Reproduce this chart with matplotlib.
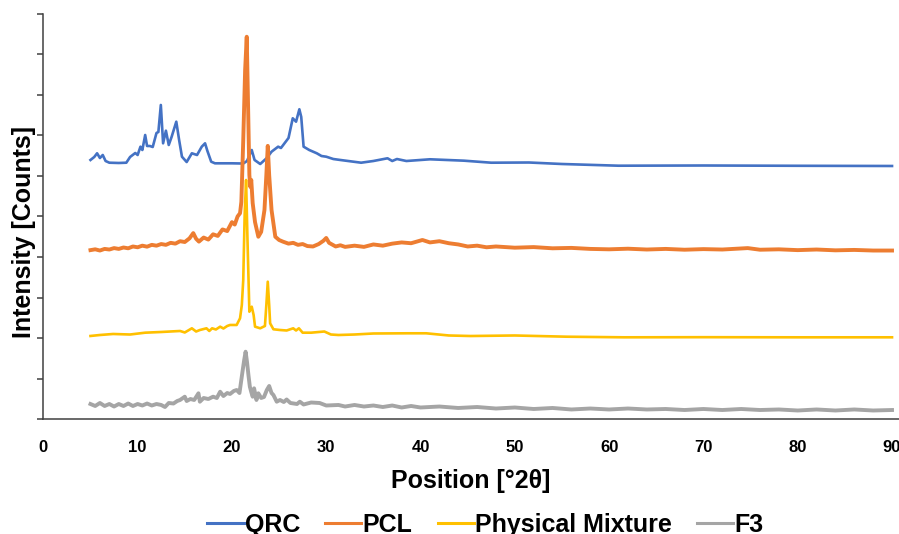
import matplotlib
matplotlib.use("Agg")
import matplotlib.pyplot as plt

plt.rcParams["font.family"] = ["Liberation Sans", "DejaVu Sans"]
plt.rcParams["font.weight"] = "bold"

# ---- XRD patterns (2theta, counts) ----
qrc_x = [5.0, 5.4, 5.7, 6.0, 6.3, 6.6, 7.0, 8.0, 8.8, 9.2, 9.75, 10.0, 10.3, 10.5,
         10.8, 11.0, 11.3, 11.6, 12.0, 12.2, 12.46, 12.7, 13.0, 13.3, 13.6, 14.1,
         14.4, 14.7, 15.2, 15.75, 16.3, 16.8, 17.15, 17.4, 17.8, 18.2, 20.0, 21.2,
         21.6, 22.1, 22.4, 23.0, 23.7, 24.2, 24.9, 25.2, 25.6, 26.0, 26.45, 26.8,
         27.15, 27.35, 27.6, 28.2, 29.0, 29.5, 30.0, 30.75, 31.5, 33.7, 35.0, 36.5,
         37.0, 37.5, 38.5, 41.0, 44.6, 47.5, 51.5, 55.0, 61.0, 70.0, 80.0, 90.0]
qrc_y = [6392, 6466, 6557, 6441, 6515, 6367, 6325, 6318, 6325, 6466, 6564, 6515, 6720, 6638,
         7008, 6737, 6737, 6712, 7058, 7082, 7748, 6803, 7114, 6762, 6959, 7336,
         6885, 6473, 6342, 6557, 6515, 6720, 6803, 6614, 6350, 6310, 6310, 6305,
         6367, 6638, 6392, 6293, 6441, 6596, 6720, 6688, 6811, 6934, 7420, 7336,
         7642, 7452, 6720, 6638, 6557, 6490, 6473, 6416, 6392, 6325, 6367, 6434,
         6367, 6416, 6367, 6409, 6375, 6325, 6330, 6293, 6251, 6256, 6249, 6244]

pcl_x = [5.0, 5.5, 6.0, 6.5, 7.0, 7.5, 8.0, 8.5, 9.0, 9.5, 10.0, 10.5, 11.0, 11.5,
         12.0, 12.5, 13.0, 13.5, 14.0, 14.5, 15.0, 15.5, 15.9, 16.2, 16.5, 17.0,
         17.5, 18.0, 18.5, 19.0, 19.5, 20.0, 20.3, 20.6, 20.86, 21.0, 21.2, 21.4,
         21.57, 21.7, 21.85, 21.95, 22.05, 22.2, 22.45, 22.8, 23.1, 23.45, 23.65,
         23.8, 23.95, 24.2, 24.6, 25.0, 25.4, 26.0, 26.5, 27.0, 27.5, 28.0, 28.6,
         29.2, 29.7, 30.0, 30.3, 31.0, 31.5, 32.0, 33.0, 34.0, 35.0, 36.0, 37.0,
         38.0, 39.0, 40.2, 41.0, 42.0, 43.0, 44.0, 45.0, 46.0, 47.0, 48.0, 50.0,
         52.0, 54.0, 56.0, 58.0, 60.0, 62.0, 64.0, 66.0, 68.0, 70.0, 72.0, 74.7,
         76.0, 78.0, 80.0, 82.0, 84.0, 86.0, 88.0, 90.0]
pcl_y = [4170, 4190, 4160, 4200, 4185, 4220, 4200, 4235, 4215, 4260, 4240, 4280, 4255, 4300,
         4280, 4320, 4300, 4350, 4330, 4390, 4370, 4460, 4590, 4450, 4380, 4480,
         4430, 4560, 4520, 4680, 4640, 4860, 4800, 5000, 5080, 5360, 6880, 8610,
         9430, 7870, 6020, 5730, 5900, 5330, 4860, 4500, 4620, 5160, 6020,
         6740, 6020, 5160, 4500, 4420, 4380, 4330, 4350, 4300, 4320, 4270, 4260,
         4320, 4400, 4470, 4350, 4260, 4290, 4250, 4280, 4250, 4310, 4280, 4330,
         4360, 4340, 4420, 4360, 4390, 4340, 4310, 4260, 4280, 4240, 4260, 4230,
         4245, 4215, 4225, 4200, 4190, 4205, 4185, 4200, 4180, 4195, 4185, 4220,
         4180, 4190, 4170, 4185, 4165, 4175, 4160, 4160]

pm_x = [5.0, 6.0, 7.4, 9.2, 10.8, 12.5, 14.5, 15.0, 15.75, 16.2, 16.6, 17.3, 17.6,
        17.9, 18.3, 18.75, 19.1, 19.5, 19.8, 20.5, 20.86, 21.05, 21.2, 21.35, 21.5,
        21.65, 21.85, 22.1, 22.3, 22.45, 23.0, 23.5, 23.65, 23.8, 23.95, 24.05,
        24.4, 25.1, 25.8, 26.5, 26.8, 27.1, 27.5, 28.4, 29.8, 30.5, 31.3, 33.0,
        35.0, 38.6, 40.6, 43.0, 45.3, 50.0, 55.5, 61.6, 70.0, 80.0, 90.0]
pm_y = [2054, 2078, 2103, 2090, 2135, 2152, 2177, 2140, 2243, 2164, 2201, 2243, 2177,
        2243, 2214, 2283, 2238, 2300, 2325, 2325, 2490, 2818, 3434, 5036, 5899,
        4420, 2652, 2776, 2571, 2283, 2243, 2300, 2818, 3392, 2818, 2366,
        2219, 2201, 2189, 2243, 2189, 2243, 2135, 2135, 2164, 2090, 2078, 2090,
        2115, 2120, 2120, 2066, 2053, 2066, 2036, 2021, 2024, 2021, 2021]

f3_x = [5.0, 5.5, 6.0, 6.5, 7.0, 7.5, 8.0, 8.5, 9.0, 9.5, 10.0, 10.5, 11.0, 11.5,
        12.0, 12.5, 12.9, 13.3, 13.8, 14.2, 14.5, 15.0, 15.2, 15.6, 16.0, 16.45,
        16.6, 17.0, 17.5, 18.0, 18.4, 18.75, 19.1, 19.5, 19.8, 20.2, 20.5, 20.8,
        21.1, 21.3, 21.45, 21.6, 21.75, 21.9, 22.05, 22.2, 22.35, 22.6, 22.8, 23.1,
        23.4, 23.7, 23.95, 24.2, 24.4, 24.75, 25.1, 25.5, 25.8, 26.2, 26.9, 27.2,
        27.6, 28.4, 29.3, 30.0, 31.3, 32.0, 33.0, 34.0, 35.0, 36.0, 37.0, 38.0,
        39.0, 40.0, 42.0, 44.0, 46.0, 48.0, 50.0, 52.0, 54.0, 56.0, 58.0, 60.0,
        62.0, 64.0, 66.0, 68.0, 70.0, 72.0, 74.0, 76.0, 78.0, 80.0, 82.0, 84.0,
        86.0, 88.0, 90.0]
f3_y = [377, 328, 402, 328, 377, 315, 377, 328, 389, 328, 377, 340, 389, 340,
        377, 353, 303, 402, 389, 451, 476, 557, 451, 500, 476, 641,
        434, 525, 500, 557, 525, 680, 574, 648, 624, 698, 722, 648,
        1141, 1462, 1666, 1412, 1092, 804, 673, 557, 764, 476, 641, 525,
        550, 722, 821, 648, 599, 434, 476, 426, 488, 402, 377, 434,
        365, 414, 402, 340, 353, 315, 353, 315, 340, 303, 340, 291,
        328, 291, 315, 279, 303, 266, 291, 254, 279, 242, 266, 242,
        266, 242, 254, 229, 254, 229, 254, 229, 242, 217, 242, 217,
        242, 217, 229]

series = [
    ("QRC", qrc_x, qrc_y, "#4472C4", 1.9),
    ("PCL", pcl_x, pcl_y, "#ED7D31", 2.8),
    ("Physical Mixture", pm_x, pm_y, "#FFC000", 1.9),
    ("F3", f3_x, f3_y, "#A5A5A5", 2.8),
]

fig = plt.figure(figsize=(8.99, 5.34), dpi=100)
ax = fig.add_axes([0.0482, 0.2148, 0.9518, 0.7597])

for name, xs, ys, color, lw in series:
    ax.plot(xs, ys, color=color, lw=lw, label=name, solid_joinstyle="round")

ax.set_xlim(0, 90.74)
ax.set_ylim(0, 10000)
ax.set_xticks(range(0, 91, 10))
ax.set_yticks(range(0, 10001, 1000))
ax.set_yticklabels([])
ax.tick_params(axis="x", length=0, pad=15, labelsize=12)
ax.tick_params(axis="y", length=4, width=1.1, color="#404040")

for side in ("top", "right"):
    ax.spines[side].set_visible(False)
for side in ("left", "bottom"):
    ax.spines[side].set_color("#404040")
    ax.spines[side].set_linewidth(1.1)

ax.set_xlabel("Position [°2θ]", fontsize=18, fontweight="bold", labelpad=10)
ax.set_ylabel("Intensity [Counts]", fontsize=18, fontweight="bold")
ax.yaxis.set_label_coords(-0.009, 0.462)

leg = fig.legend(loc="center", bbox_to_anchor=(0.54, 0.0169), ncol=4, frameon=False,
                 handlelength=1.45, handletextpad=0.05, columnspacing=1.0,
                 prop={"weight": "bold", "size": 18})
for h in leg.legend_handles:
    h.set_linewidth(2.2)

fig.savefig("out.png", dpi=100)
